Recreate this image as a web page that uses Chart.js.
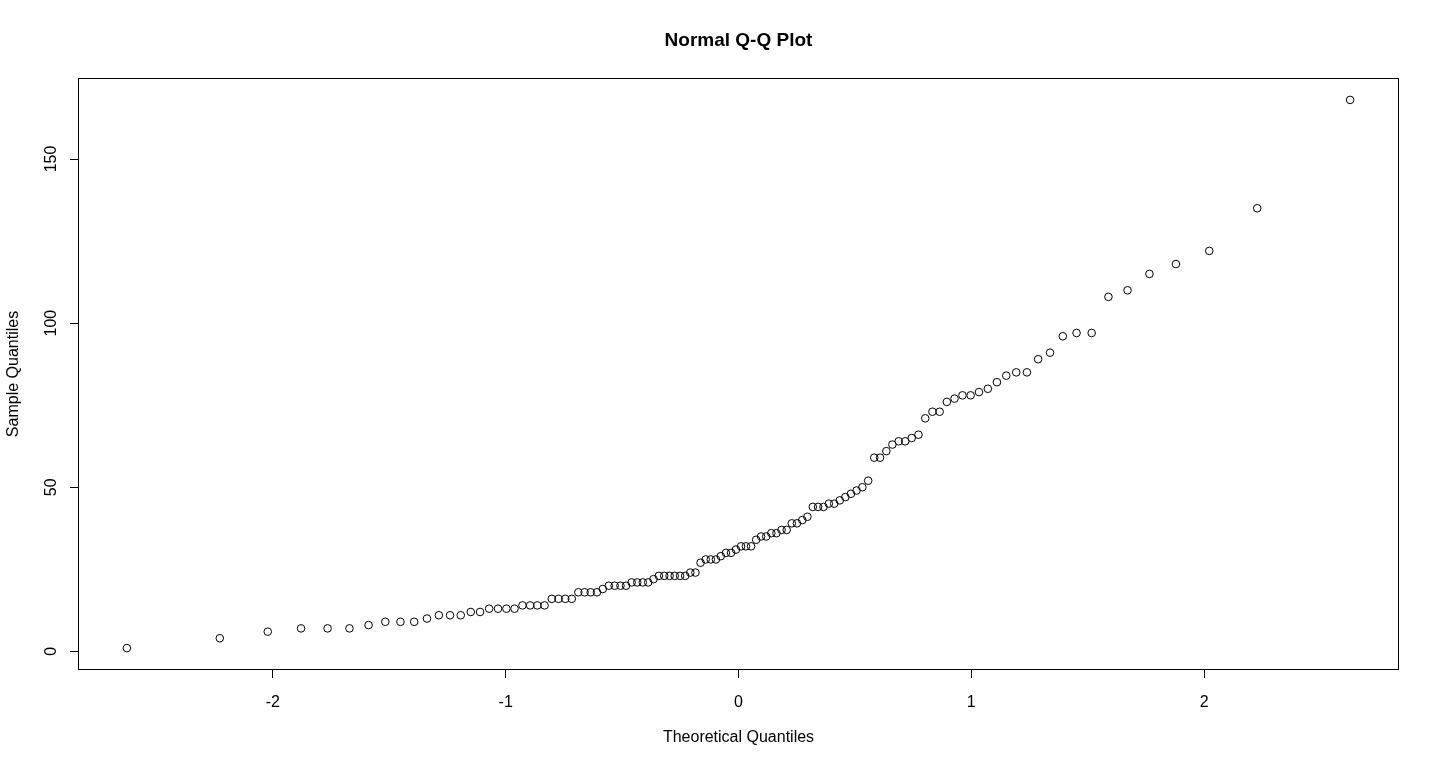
<!DOCTYPE html>
<html>
<head>
<meta charset="utf-8">
<title>Normal Q-Q Plot</title>
<script src="https://cdn.jsdelivr.net/npm/chart.js@4"></script>
<style>
  html, body { margin: 0; padding: 0; background: #fff; }
  #wrap { width: 1440px; height: 768px; }
</style>
</head>
<body>
<div id="wrap"><canvas id="myChart" width="1440" height="768"></canvas></div>
<script>
// theoretical quantiles (x)
var theoretical = [
  -2.627, -2.228, -2.022, -1.879, -1.765, -1.671, -1.589, -1.517, -1.452, -1.393,
  -1.338, -1.287, -1.239, -1.193, -1.150, -1.110, -1.071, -1.033, -0.997, -0.962,
  -0.928, -0.895, -0.864, -0.833, -0.802, -0.773, -0.744, -0.716, -0.688, -0.661,
  -0.635, -0.608, -0.583, -0.557, -0.532, -0.507, -0.483, -0.459, -0.435, -0.411,
  -0.388, -0.365, -0.342, -0.319, -0.296, -0.274, -0.251, -0.229, -0.207, -0.185,
  -0.163, -0.141, -0.119, -0.097, -0.076, -0.054, -0.032, -0.011,
  0.011, 0.032, 0.054, 0.076, 0.097, 0.119, 0.141, 0.163, 0.185, 0.207,
  0.229, 0.251, 0.274, 0.296, 0.319, 0.342, 0.365, 0.388, 0.411, 0.435,
  0.459, 0.483, 0.507, 0.532, 0.557, 0.583, 0.608, 0.635, 0.661, 0.688,
  0.716, 0.744, 0.773, 0.802, 0.833, 0.864, 0.895, 0.928, 0.962, 0.997,
  1.033, 1.071, 1.110, 1.150, 1.193, 1.239, 1.287, 1.338, 1.393, 1.452,
  1.517, 1.589, 1.671, 1.765, 1.879, 2.022, 2.228, 2.627
];

// sample quantiles (y), sorted
var sample = [
  1, 4, 6, 7, 7, 7, 8, 9, 9, 9, 10, 11, 11, 11, 12, 12, 13, 13, 13, 13,
  14, 14, 14, 14, 16, 16, 16, 16, 18, 18, 18, 18, 19, 20, 20, 20, 20, 21, 21, 21,
  21, 22, 23, 23, 23, 23, 23, 23, 24, 24, 27, 28, 28, 28, 29, 30, 30, 31,
  32, 32, 32, 34, 35, 35, 36, 36, 37, 37, 39, 39, 40, 41, 44, 44, 44, 45, 45, 46,
  47, 48, 49, 50, 52, 59, 59, 61, 63, 64, 64, 65, 66, 71, 73, 73, 76, 77, 78, 78,
  79, 80, 82, 84, 85, 85, 89, 91, 96, 97, 97, 108, 110, 115, 118, 122, 135, 168
];

var xTicks = [-2, -1, 0, 1, 2];
var yTicks = [0, 50, 100, 150];

var points = [];
for (var i = 0; i < sample.length; i++) {
  points.push({ x: theoretical[i], y: sample[i] });
}

var FONT = "'Liberation Sans', Arial, Helvetica, sans-serif";

// R style axes: box, axis line only between first and last tick, rotated y labels
var rAxes = {
  id: 'rAxes',
  afterDraw: function (chart) {
    var ctx = chart.ctx;
    var a = chart.chartArea;
    var xs = chart.scales.x;
    var ys = chart.scales.y;
    ctx.save();
    ctx.strokeStyle = '#000';
    ctx.lineWidth = 1;
    ctx.strokeRect(a.left + 0.5, a.top + 0.5, a.right - a.left - 1, a.bottom - a.top - 1);

    ctx.beginPath();
    ctx.moveTo(Math.round(xs.getPixelForValue(xTicks[0])), a.bottom - 0.5);
    ctx.lineTo(Math.round(xs.getPixelForValue(xTicks[xTicks.length - 1])) + 1, a.bottom - 0.5);
    ctx.moveTo(a.left + 0.5, Math.round(ys.getPixelForValue(yTicks[0])) + 1);
    ctx.lineTo(a.left + 0.5, Math.round(ys.getPixelForValue(yTicks[yTicks.length - 1])));
    ctx.stroke();

    ctx.fillStyle = '#000';
    ctx.font = '16px ' + FONT;
    ctx.textAlign = 'center';
    ctx.textBaseline = 'alphabetic';
    xTicks.forEach(function (v) {
      ctx.fillText(String(v), xs.getPixelForValue(v), 707);
    });
    yTicks.forEach(function (v) {
      ctx.save();
      ctx.translate(56, ys.getPixelForValue(v));
      ctx.rotate(-Math.PI / 2);
      ctx.fillText(String(v), 0, 0);
      ctx.restore();
    });

    var cx = (a.left + a.right) / 2;
    var cy = (a.top + a.bottom) / 2;
    ctx.fillText('Theoretical Quantiles', cx, 742);
    ctx.save();
    ctx.translate(18, cy);
    ctx.rotate(-Math.PI / 2);
    ctx.fillText('Sample Quantiles', 0, 0);
    ctx.restore();

    ctx.font = 'bold 19px ' + FONT;
    ctx.fillText('Normal Q-Q Plot', cx, 46);
    ctx.restore();
  }
};

new Chart("myChart", {
  type: "scatter",
  data: {
    datasets: [{
      data: points,
      pointStyle: 'circle',
      pointRadius: 3.8,
      pointHoverRadius: 3.8,
      backgroundColor: 'rgba(0,0,0,0)',
      borderColor: '#000',
      borderWidth: 1
    }]
  },
  options: {
    responsive: false,
    animation: false,
    layout: { padding: { left: 0, right: 41, top: 78, bottom: 0 } },
    plugins: {
      legend: { display: false },
      title: { display: false },
      tooltip: { enabled: false }
    },
    scales: {
      x: {
        type: 'linear',
        min: -2.837,
        max: 2.837,
        afterBuildTicks: function (scale) {
          scale.ticks = xTicks.map(function (v) { return { value: v }; });
        },
        afterFit: function (scale) { scale.height = 98; },
        grid: { drawOnChartArea: false, drawTicks: true, tickLength: 8, color: '#000', lineWidth: 1 },
        border: { display: false },
        ticks: { display: false }
      },
      y: {
        type: 'linear',
        min: -5.68,
        max: 174.68,
        afterBuildTicks: function (scale) {
          scale.ticks = yTicks.map(function (v) { return { value: v }; });
        },
        afterFit: function (scale) { scale.width = 78; },
        grid: { drawOnChartArea: false, drawTicks: true, tickLength: 8, color: '#000', lineWidth: 1 },
        border: { display: false },
        ticks: { display: false }
      }
    }
  },
  plugins: [rAxes]
});
</script>
</body>
</html>
